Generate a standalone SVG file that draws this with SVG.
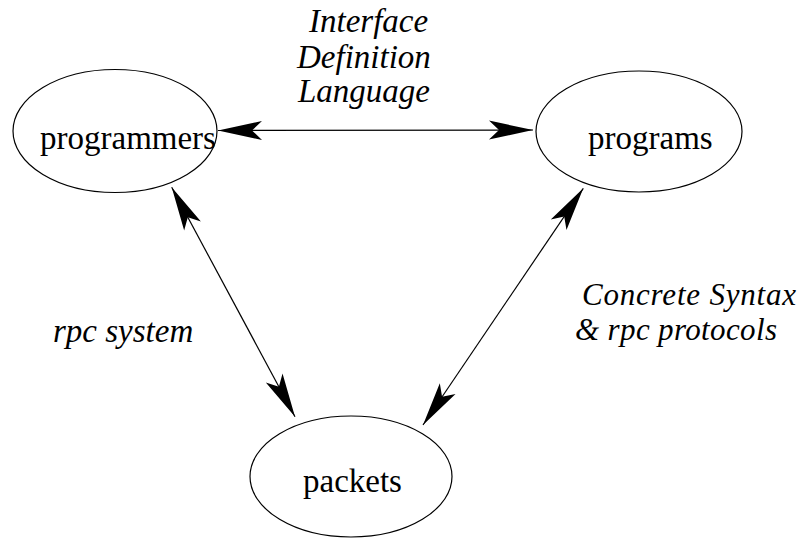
<svg xmlns="http://www.w3.org/2000/svg" width="801" height="538" viewBox="0 0 801 538">
<style>
.node ellipse{fill:none;stroke:#000;stroke-width:1.2}
text{fill:#000;font-size:33px}
.lbl{font-style:italic}
.sm{font-size:31px}
#connectors line{stroke:#000;stroke-width:1.2;marker-start:url(#ah);marker-end:url(#ah)}
</style>
<defs>
<marker id="ah" markerUnits="userSpaceOnUse" viewBox="-46 -11 48 22" refX="0" refY="0" markerWidth="48" markerHeight="22" orient="auto-start-reverse" overflow="visible">
<path d="M0,0 L-44,-9.5 L-34,0 L-44,9.5 Z" fill="#000"/>
</marker>
</defs>
<rect width="801" height="538" fill="#fff"/>
<g font-family="'Liberation Serif', 'DejaVu Serif', serif">
<g id="programmers" class="node">
<ellipse cx="115" cy="131" rx="102" ry="61.5"/>
<text x="40" y="149">programmers</text>
</g>
<g id="programs" class="node">
<ellipse cx="639" cy="131.5" rx="103" ry="60.5"/>
<text x="588" y="149">programs</text>
</g>
<g id="packets" class="node">
<ellipse cx="351" cy="476.5" rx="101" ry="60.5"/>
<text x="303" y="492">packets</text>
</g>
<g id="connectors">
<line x1="218" y1="130.5" x2="533" y2="130"/>
<line x1="171.7" y1="187.3" x2="295" y2="416.7"/>
<line x1="583.3" y1="188.3" x2="423" y2="425"/>
</g>
<g id="labels">
<text class="lbl" x="309" y="32">Interface</text>
<text class="lbl" x="297" y="68">Definition</text>
<text class="lbl" x="298" y="102">Language</text>
<text class="lbl" x="53" y="342">rpc system</text>
<text class="lbl sm" x="582" y="304.5" textLength="214" lengthAdjust="spacing">Concrete Syntax</text>
<text class="lbl sm" x="575" y="339.5" textLength="202" lengthAdjust="spacing">&amp; rpc protocols</text>
</g>
</g>
</svg>
